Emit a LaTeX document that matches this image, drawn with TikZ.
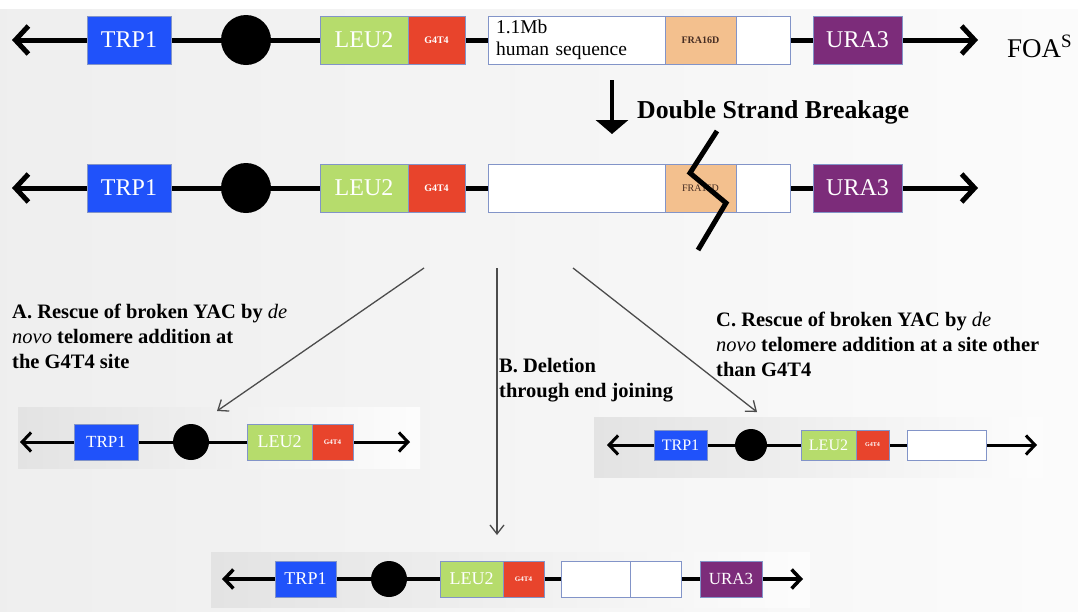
\documentclass[tikz,border=0pt]{standalone}
\usepackage{fontspec}
\setmainfont{Liberation Serif}
\usetikzlibrary{arrows.meta}

\definecolor{trpblue}{RGB}{32,82,250}
\definecolor{leugreen}{RGB}{182,220,108}
\definecolor{gred}{RGB}{232,68,44}
\definecolor{fraorange}{RGB}{243,192,142}
\definecolor{urapurple}{RGB}{124,44,122}
\definecolor{boxedge}{RGB}{130,148,200}
\definecolor{fratext}{RGB}{70,45,35}

\tikzset{
  gene/.style={draw=boxedge, line width=0.9pt, inner sep=0pt, text=white, minimum height=#1},
  gene/.default=48pt,
  centro/.style={circle, fill=black, inner sep=0pt, minimum size=#1},
  backbone/.style={line width=#1, draw=black},
  bigbarb/.style={{Straight Barb[length=13pt,width=28pt]}-{Straight Barb[length=13pt,width=28pt]}},
  smallbarb/.style={{Straight Barb[length=9pt,width=19pt]}-{Straight Barb[length=9pt,width=19pt]}},
  thinarrow/.style={line width=1.3pt, draw=black!70, -{Straight Barb[length=9pt,width=14pt]}},
  caption/.style={anchor=north west, align=left, inner sep=0pt,
    font=\bfseries\fontsize{20.5}{25}\selectfont},
  panel/.style={left color=gray!22, right color=gray!2},
  big/.style={font=\fontsize{24}{24}\selectfont},
  tiny/.style={font=\bfseries\fontsize{10}{10}\selectfont},
}

\begin{document}
\begin{tikzpicture}[x=1pt,y=-1pt]
% page background
\fill[white] (0,0) rectangle (1078,611);
\shade[left color=gray!13, right color=gray!3] (0,9) rectangle (1078,611);
\useasboundingbox (0,0) rectangle (1078,611);

% panels behind the three outcome constructs
\shade[panel] (18,407) rectangle (420,468);
\shade[panel] (594,417) rectangle (1043,477);
\shade[panel] (211,552) rectangle (810,607);

% ---------------- full-length YAC ----------------
\coordinate (r1L) at (12,40);
\coordinate (r1R) at (978,40);
\draw[backbone=5pt, bigbarb] (r1L) -- (r1R);
\node[gene, fill=trpblue, minimum width=84pt, big] (trpA) at (129,40) {TRP1};
\node[centro=50pt] (cenA) at (246,40) {};
\node[gene, fill=leugreen, minimum width=88pt, big] (leuA) at (364,40) {LEU2};
\node[gene, fill=gred, minimum width=57pt, tiny] (gA) at (436.5,40) {G4T4};
\node[gene, fill=white, text=black, minimum width=177pt, text width=161pt, align=left,
      font=\fontsize{19.5}{22}\selectfont] (humA) at (576.5,40) {1.1Mb\\human sequence};
\node[gene, fill=fraorange, text=fratext, minimum width=71pt, tiny] (fraA) at (700.5,40) {FRA16D};
\node[gene, fill=white, minimum width=54pt] (wA) at (763,40) {};
\node[gene, fill=urapurple, minimum width=89pt, big] (uraA) at (857.5,40) {URA3};
\node[anchor=base west, inner sep=0pt, font=\fontsize{27}{27}\selectfont] (foa) at (1007,57) {FOA\textsuperscript{S}};

% ---------------- break step ----------------
\coordinate (dsbTop) at (612,80);
\coordinate (dsbTip) at (612,134);
\draw[line width=4pt, -{Triangle[length=14pt,width=32pt]}] (dsbTop) -- (dsbTip);
\node[anchor=base west, inner sep=0pt, font=\bfseries\fontsize{25.8}{26}\selectfont] (dsb) at (637,118) {Double Strand Breakage};

% ---------------- broken YAC ----------------
\coordinate (r2L) at (12,188);
\coordinate (r2R) at (978,188);
\draw[backbone=5pt, bigbarb] (r2L) -- (r2R);
\node[gene, fill=trpblue, minimum width=84pt, big] (trpB) at (129,188) {TRP1};
\node[centro=50pt] (cenB) at (246,188) {};
\node[gene, fill=leugreen, minimum width=88pt, big] (leuB) at (364,188) {LEU2};
\node[gene, fill=gred, minimum width=57pt, tiny] (gB) at (436.5,188) {G4T4};
\node[gene, fill=white, minimum width=177pt] (humB) at (576.5,188) {};
\node[gene, fill=fraorange, text=fratext, minimum width=71pt, font=\fontsize{10}{10}\selectfont] (fraB) at (700.5,188) {FRA16D};
\node[gene, fill=white, minimum width=54pt] (wB) at (763,188) {};
\node[gene, fill=urapurple, minimum width=89pt, big] (uraB) at (857.5,188) {URA3};
% break mark
\coordinate (k1) at (717,131);
\coordinate (k2) at (690,173);
\coordinate (k3) at (726,203);
\coordinate (k4) at (698,250);
\draw[line width=5pt, line join=miter] (k1) -- (k2) -- (k3) -- (k4);

% ---------------- outcome arrows ----------------
\coordinate (oA) at (424,268);
\coordinate (oB) at (497,268);
\coordinate (oC) at (573,268);
\coordinate (eA) at (217,411);
\coordinate (eB) at (497,535);
\coordinate (eC) at (757,412);
\draw[thinarrow] (oA) -- (eA);
\draw[thinarrow] (oB) -- (eB);
\draw[thinarrow] (oC) -- (eC);

\node[caption] (capA) at (12,304) {A. Rescue of broken YAC by {\mdseries\itshape de}\\{\mdseries\itshape novo} telomere addition at\\the G4T4 site};
\node[caption] (capB) at (499,358) {B. Deletion\\through end joining};
\node[caption] (capC) at (716,312) {C. Rescue of broken YAC by {\mdseries\itshape de}\\{\mdseries\itshape novo} telomere addition at a site other\\than G4T4};

% ---------------- outcome A ----------------
\coordinate (aL) at (20,442);
\coordinate (aR) at (410,442);
\draw[backbone=3pt, smallbarb] (aL) -- (aR);
\node[gene=36pt, fill=trpblue, minimum width=64pt, font=\fontsize{17}{17}\selectfont] (trpO) at (106,442) {TRP1};
\node[centro=36pt] (cenO) at (191,442) {};
\node[gene=36pt, fill=leugreen, minimum width=65pt, font=\fontsize{18}{18}\selectfont] (leuO) at (279.5,442) {LEU2};
\node[gene=36pt, fill=gred, minimum width=41pt, font=\bfseries\fontsize{7}{7}\selectfont] (gO) at (332.5,442) {G4T4};

% ---------------- outcome C ----------------
\coordinate (cL) at (607,445);
\coordinate (cR) at (1037,445);
\draw[backbone=3pt, smallbarb] (cL) -- (cR);
\node[gene=30pt, fill=trpblue, minimum width=53pt, font=\fontsize{16}{16}\selectfont] (trpC) at (680.5,445) {TRP1};
\node[centro=32pt] (cenC) at (751,445) {};
\node[gene=30pt, fill=leugreen, minimum width=55pt, font=\fontsize{16}{16}\selectfont] (leuC) at (828.5,445) {LEU2};
\node[gene=30pt, fill=gred, minimum width=33pt, font=\bfseries\fontsize{6}{6}\selectfont] (gC) at (872.5,445) {G4T4};
\node[gene=30pt, fill=white, minimum width=79pt] (wC) at (946.5,445) {};

% ---------------- outcome B ----------------
\coordinate (bL) at (222,579);
\coordinate (bR) at (803,579);
\draw[backbone=3.5pt, smallbarb] (bL) -- (bR);
\node[gene=36pt, fill=trpblue, minimum width=61pt, font=\fontsize{18}{18}\selectfont] (trpD) at (305.5,579) {TRP1};
\node[centro=36pt] (cenD) at (389,579) {};
\node[gene=36pt, fill=leugreen, minimum width=63pt, font=\fontsize{18}{18}\selectfont] (leuD) at (471.5,579) {LEU2};
\node[gene=36pt, fill=gred, minimum width=41pt, font=\bfseries\fontsize{7}{7}\selectfont] (gD) at (523.5,579) {G4T4};
\node[gene=36pt, fill=white, minimum width=69pt] (w1D) at (595.5,579) {};
\node[gene=36pt, fill=white, minimum width=51pt] (w2D) at (655.5,579) {};
\node[gene=36pt, fill=urapurple, minimum width=62pt, font=\fontsize{17}{17}\selectfont] (uraD) at (731,579) {URA3};
\end{tikzpicture}
\end{document}
